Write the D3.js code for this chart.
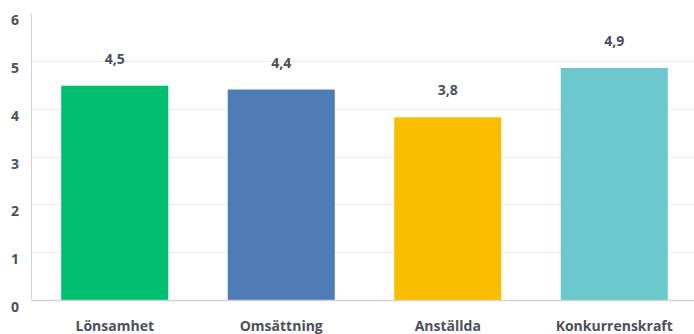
<!DOCTYPE html>
<html>
<head>
<meta charset="utf-8">
<script src="https://cdn.jsdelivr.net/npm/d3@7"></script>
<style>
  body { margin: 0; background: #fff; }
  text { font-family: "Open Sans", sans-serif; font-weight: 700; fill: #4b5059; }
</style>
</head>
<body>
<script>
"use strict";
(function(){
    // chart data
    const categories = ["Lönsamhet", "Omsättning", "Anställda", "Konkurrenskraft"];
    const values = [4.48, 4.4, 3.82, 4.85];
    const valueLabels = ["4,5", "4,4", "3,8", "4,9"];
    const barColors = ["#00bf6f", "#507cb6", "#f9be00", "#6bc8cd"];
    const yTicks = [0, 1, 2, 3, 4, 5, 6];

    const measurements = {
        width: 694,
        height: 334,
        left: 31.5,
        right: 697.5,
        top: 13,
        bottom: 300
    }

    const svg = d3.select("body").append("svg")
        .attr("width", measurements.width)
        .attr("height", measurements.height);

    const scaleX = d3.scaleBand()
        .domain(categories)
        .range([measurements.left, measurements.right])
        .paddingInner(0.357)
        .paddingOuter(0.1785);

    const scaleY = d3.scaleLinear()
        .domain([0, 6])
        .range([measurements.bottom, measurements.top]);

    // gridlines (skip top and zero)
    svg.append("g").selectAll("line")
        .data(yTicks.filter(t => t > 0 && t < 6))
        .enter().append("line")
        .attr("x1", measurements.left)
        .attr("x2", measurements.width)
        .attr("y1", d => Math.round(scaleY(d)) + 0.5)
        .attr("y2", d => Math.round(scaleY(d)) + 0.5)
        .attr("stroke", "#ececec")
        .attr("stroke-width", 1);

    // y tick labels
    svg.append("g").selectAll("text")
        .data(yTicks)
        .enter().append("text")
        .attr("x", 15)
        .attr("y", d => scaleY(d) + 12)
        .attr("text-anchor", "middle")
        .style("font-size", "14px")
        .text(d => d);

    // bars
    svg.append("g").selectAll("rect")
        .data(values)
        .enter().append("rect")
        .attr("x", (d, i) => scaleX(categories[i]))
        .attr("y", d => scaleY(d))
        .attr("width", scaleX.bandwidth())
        .attr("height", d => scaleY(0) - scaleY(d))
        .attr("fill", (d, i) => barColors[i]);

    // value labels
    svg.append("g").selectAll("text")
        .data(values)
        .enter().append("text")
        .attr("x", (d, i) => scaleX(categories[i]) + scaleX.bandwidth() / 2)
        .attr("y", d => scaleY(d) - 22)
        .attr("text-anchor", "middle")
        .style("font-size", "14px")
        .text((d, i) => valueLabels[i]);

    // axes lines
    svg.append("line")
        .attr("x1", measurements.left).attr("x2", measurements.left)
        .attr("y1", measurements.top).attr("y2", measurements.bottom)
        .attr("stroke", "#d4d4d4");
    svg.append("line")
        .attr("x1", measurements.left).attr("x2", measurements.width)
        .attr("y1", measurements.bottom + 0.5).attr("y2", measurements.bottom + 0.5)
        .attr("stroke", "#d4d4d4")
        .attr("stroke-width", 1.5);

    // category labels
    svg.append("g").selectAll("text")
        .data(categories)
        .enter().append("text")
        .attr("x", d => scaleX(d) + scaleX.bandwidth() / 2)
        .attr("y", 331)
        .attr("text-anchor", "middle")
        .style("font-size", "14px")
        .text(d => d);
})()
</script>
</body>
</html>
